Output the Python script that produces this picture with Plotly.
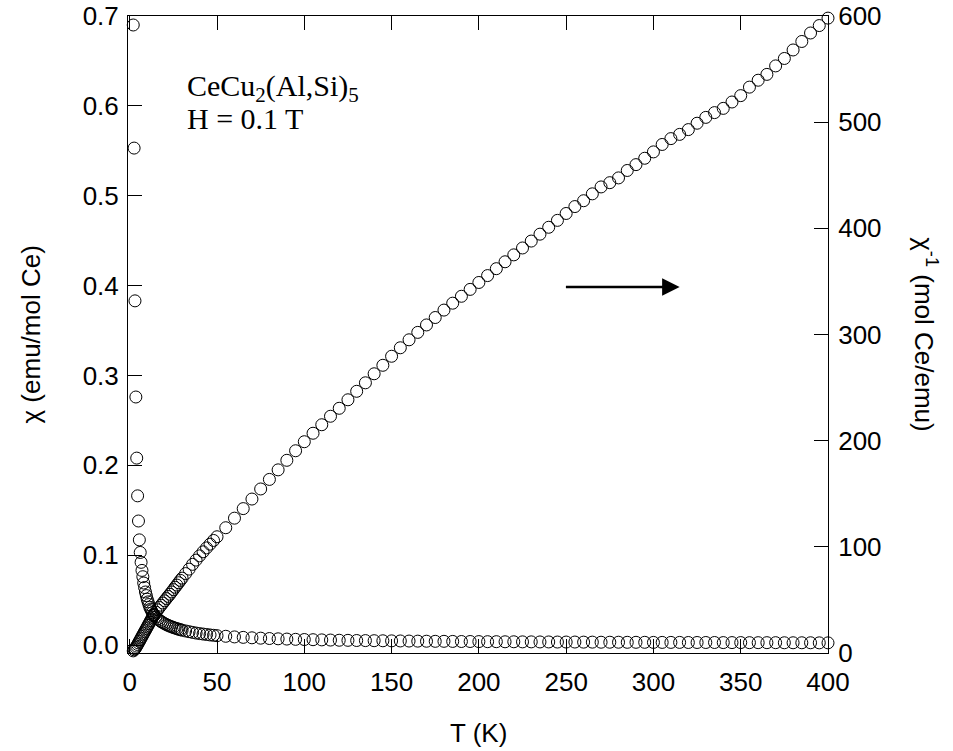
import plotly.graph_objects as go

# Temperature (K)
T = [2, 2.5, 3, 3.5, 4, 4.5, 5, 5.5, 6, 6.5, 7, 7.5, 8, 8.5, 9, 9.5, 10, 10.5, 11, 11.5,
     12, 12.5, 13, 13.5, 14, 15, 16, 17, 18, 19, 20, 21, 22, 23, 24, 25, 26, 27, 28, 29,
     30, 32, 34, 36, 38, 40, 42, 44, 46, 48,
     50, 55, 60, 65, 70, 75, 80, 85, 90, 95, 100, 105, 110, 115, 120, 125, 130, 135, 140, 145,
     150, 155, 160, 165, 170, 175, 180, 185, 190, 195, 200, 205, 210, 215, 220, 225, 230, 235,
     240, 245, 250, 255, 260, 265, 270, 275, 280, 285, 290, 295, 300, 305, 310, 315, 320, 325,
     330, 335, 340, 345, 350, 355, 360, 365, 370, 375, 380, 385, 390, 395, 400]

# chi (emu/mol Ce), left axis
chi = [0.690, 0.553, 0.383, 0.276, 0.208, 0.166, 0.138, 0.117, 0.103, 0.092, 0.083, 0.076,
       0.069, 0.064, 0.059, 0.055, 0.051, 0.048, 0.045, 0.042, 0.040, 0.038, 0.036, 0.034,
       0.033, 0.031, 0.029, 0.0275, 0.026, 0.0248, 0.0237, 0.0227, 0.0218, 0.021, 0.0202,
       0.0195, 0.0188, 0.0182, 0.0176, 0.017, 0.0165, 0.0156, 0.0148, 0.014, 0.0133, 0.0127,
       0.0122, 0.0117, 0.0112, 0.0108,
       0.0104, 0.0097, 0.0090, 0.0085, 0.0080, 0.0076, 0.0072, 0.0069, 0.0066, 0.0063, 0.0061,
       0.0059, 0.0057, 0.0055, 0.0053, 0.0052, 0.0050, 0.0049, 0.0048, 0.0047, 0.0046, 0.0045,
       0.0044, 0.0043, 0.0042, 0.0041, 0.0041, 0.0040, 0.0039, 0.0039, 0.0038, 0.0037, 0.0037,
       0.0036, 0.0036, 0.0035, 0.0035, 0.0034, 0.0034, 0.0033, 0.0033, 0.0033, 0.0032, 0.0032,
       0.0031, 0.0031, 0.0031, 0.0030, 0.0030, 0.0030, 0.0029, 0.0029, 0.0029, 0.0029, 0.0028,
       0.0028, 0.0028, 0.0028, 0.0027, 0.0027, 0.0027, 0.0026, 0.0026, 0.0026, 0.0026, 0.0025,
       0.0025, 0.0025, 0.0025, 0.0024, 0.0024]

# 1/chi (mol Ce/emu), right axis
inv_chi = [2, 3, 4, 5.2, 6.5, 8, 9.5, 11, 12.5, 14, 15.5, 17, 18.5, 20, 21.5, 23, 24.5, 26,
           27.5, 29, 30.5, 32, 33.5, 35, 36.2, 38.5, 40.7, 42.9, 45, 47.1, 49.2, 51.3, 53.3,
           55.3, 57.5, 59.7, 61.9, 64, 66.2, 68.4, 70.5, 74.8, 79, 83.5, 87.5, 91.5, 95.3, 99,
           102.5, 106,
           109.5, 118, 127, 136, 145, 154.5, 163.5, 172.5, 181.5, 190.5, 199, 207, 215, 223,
           230.5, 238.5, 246.5, 254.5, 263, 271, 279.5, 287.5, 295, 302, 309, 316, 323, 329.5,
           336, 342.5, 349, 355.5, 362, 368.5, 375, 381.5, 388, 394.5, 401, 407.5, 414, 420.5,
           426, 432.5, 439, 443, 447.5, 454.5, 460, 466, 472, 479, 484.5, 488.5, 493, 499,
           504.5, 509, 513, 519, 525, 533, 539.5, 545, 553, 560, 568, 576, 584, 591, 598]

x_ticks = [0, 50, 100, 150, 200, 250, 300, 350, 400]
y_ticks = [0.0, 0.1, 0.2, 0.3, 0.4, 0.5, 0.6, 0.7]
y2_ticks = [0, 100, 200, 300, 400, 500, 600]

marker = dict(symbol="circle-open", size=12, color="black", line=dict(width=1, color="black"))

fig = go.Figure()
fig.add_trace(go.Scatter(x=T, y=chi, mode="markers", marker=marker, yaxis="y", cliponaxis=False))
fig.add_trace(go.Scatter(x=T, y=inv_chi, mode="markers", marker=marker, yaxis="y2", cliponaxis=False))

tickfont = dict(family="Liberation Sans, Arial, sans-serif", size=26, color="black")
common = dict(ticks="inside", ticklen=14, tickwidth=1, tickcolor="black", showline=True,
              linecolor="black", linewidth=1, showgrid=False, zeroline=False,
              tickfont=tickfont, automargin=False)
fig.update_layout(
    width=953, height=751,
    margin=dict(l=128, r=125, t=16, b=98, autoexpand=False),
    paper_bgcolor="white", plot_bgcolor="white",
    showlegend=False,
    xaxis=dict(range=[-1, 400], tickvals=x_ticks, mirror="ticks", ticklabelstandoff=6, **common),
    yaxis=dict(range=[-0.0089, 0.7], tickvals=y_ticks, tickformat=".1f", ticklabelstandoff=3,
               **common),
    yaxis2=dict(range=[0, 600], tickvals=y2_ticks, overlaying="y", side="right",
                ticklabelstandoff=4, **common),
)

titlefont = dict(family="Liberation Sans, Arial, sans-serif", size=26, color="black")
serif = dict(family="Liberation Serif, Times New Roman, serif", size=30, color="black")
fig.add_annotation(text="T (K)", xref="paper", yref="paper", x=0.5, y=-0.126,
                   showarrow=False, font=titlefont, xanchor="center", yanchor="middle")
fig.add_annotation(text="χ (emu/mol Ce)", xref="paper", yref="paper", x=-0.14, y=0.5,
                   textangle=-90, showarrow=False, font=titlefont, xanchor="center", yanchor="middle")
fig.add_annotation(text="χ<sup>-1</sup> (mol Ce/emu)", xref="paper", yref="paper", x=1.139, y=0.5,
                   textangle=90, showarrow=False, font=titlefont, xanchor="center", yanchor="middle")
fig.add_annotation(text="CeCu<sub>2</sub>(Al,Si)<sub>5</sub>", xref="paper", yref="paper",
                   x=0.082, y=0.887, showarrow=False, font=serif, xanchor="left", yanchor="middle")
fig.add_annotation(text="H = 0.1 T", xref="paper", yref="paper",
                   x=0.082, y=0.839, showarrow=False, font=serif, xanchor="left", yanchor="middle")
fig.add_annotation(x=315, y=344.7, xref="x", yref="y2", ax=249, ay=344.7, axref="x", ayref="y2",
                   text="", showarrow=True, arrowhead=2, arrowsize=1.4, arrowwidth=2.5,
                   arrowcolor="black")

fig.write_html("out.html")
